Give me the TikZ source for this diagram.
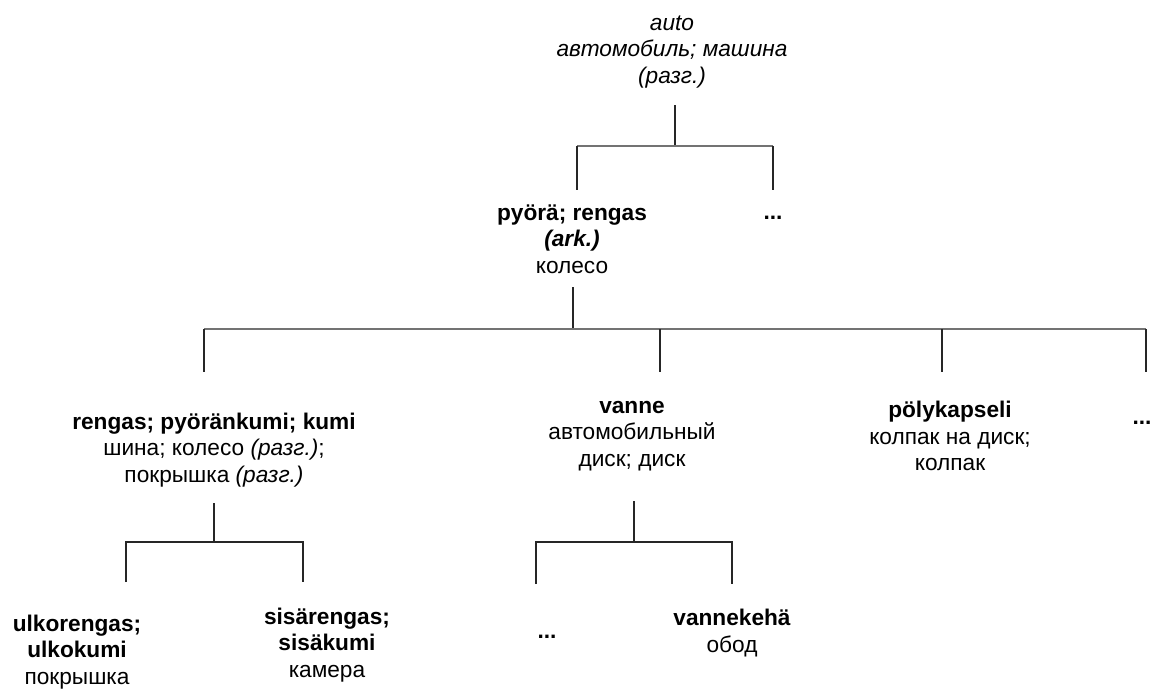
\documentclass[tikz,border=0pt]{standalone}
\usepackage{fontspec}
\setmainfont{Liberation Sans}
\usepackage{xcolor}
\usepackage{tikz}

\begin{document}
\begin{tikzpicture}[
    x=0.75pt, y=-0.75pt,
    every node/.style={align=center, inner sep=0pt, font=\fontsize{17}{20}\selectfont},
    link/.style={line width=1.5pt, black!85},
    bus/.style={line width=2.2pt, black!55}
]
\useasboundingbox (0,0) rectangle (1151,689);

% Nodes
\node (auto) at (672,52) {\textit{auto}\\\textit{автомобиль; машина}\\\textit{(разг.)}};
\node (pyora) at (572,239) {\textbf{pyörä; rengas}\\\textbf{\textit{(ark.)}}\\колесо};
\node (dotsA) at (773,218) {\textbf{...}};
\node (rengas) at (214,450) {\textbf{rengas; pyöränkumi; kumi}\\шина; колесо \textit{(разг.)};\\покрышка \textit{(разг.)}};
\node (vanne) at (632,436) {\textbf{vanne}\\автомобильный\\диск; диск};
\node (kapseli) at (950,436) {\textbf{pölykapseli}\\колпак на диск;\\колпак};
\node (dotsB) at (1142,423) {\textbf{...}};
\node (ulko) at (77,652) {\textbf{ulkorengas;}\\\textbf{ulkokumi}\\покрышка};
\node (sisa) at (327,645) {\textbf{sisärengas;}\\\textbf{sisäkumi}\\камера};
\node (dotsC) at (547,637) {\textbf{...}};
\node (kehä) at (732,633) {\textbf{vannekehä}\\обод};

% Connector ends
\coordinate (autoS) at (675,105);
\coordinate (autoJ) at (675,146);
\coordinate (pyoraN) at (577,190);
\coordinate (dotsAN) at (773,190);
\coordinate (pyoraS) at (573,287);
\coordinate (pyoraJ) at (573,329);
\coordinate (rengasN) at (204,372);
\coordinate (vanneN) at (660,372);
\coordinate (kapseliN) at (942,372);
\coordinate (dotsBN) at (1146,372);
\coordinate (rengasS) at (214,503);
\coordinate (rengasJ) at (214,542);
\coordinate (ulkoN) at (126,582);
\coordinate (sisaN) at (303,582);
\coordinate (vanneS) at (634,501);
\coordinate (vanneJ) at (634,542);
\coordinate (dotsCN) at (536,584);
\coordinate (kehäN) at (732,584);

% Edges
\draw[link] (autoS) -- (autoJ);
\draw[bus] (pyoraN |- autoJ) -- (dotsAN |- autoJ);
\draw[link] (pyoraN |- autoJ) -- (pyoraN);
\draw[link] (dotsAN |- autoJ) -- (dotsAN);

\draw[link] (pyoraS) -- (pyoraJ);
\draw[bus] (rengasN |- pyoraJ) -- (dotsBN |- pyoraJ);
\draw[link] (rengasN |- pyoraJ) -- (rengasN);
\draw[link] (vanneN |- pyoraJ) -- (vanneN);
\draw[link] (kapseliN |- pyoraJ) -- (kapseliN);
\draw[link] (dotsBN |- pyoraJ) -- (dotsBN);

\draw[link] (rengasS) -- (rengasJ);
\draw[link] (ulkoN) |- (rengasJ) -| (sisaN);

\draw[link] (vanneS) -- (vanneJ);
\draw[link] (dotsCN) |- (vanneJ) -| (kehäN);

\end{tikzpicture}
\end{document}
